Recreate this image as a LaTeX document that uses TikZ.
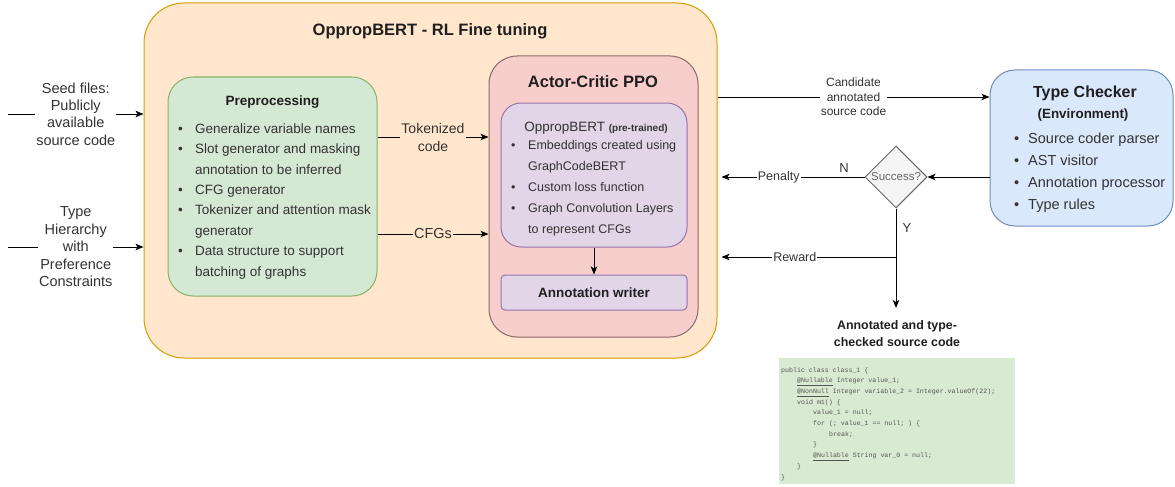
\documentclass[tikz,border=0pt]{standalone}
\usepackage{fontspec}
\setmainfont{Liberation Sans}
\setmonofont{Liberation Mono}
\usetikzlibrary{shapes.geometric,arrows.meta}
\definecolor{ofill}{HTML}{FFE6CC}
\definecolor{odraw}{HTML}{D79B00}
\definecolor{gfill}{HTML}{D5E8D4}
\definecolor{gdraw}{HTML}{82B366}
\definecolor{rfill}{HTML}{F8CECC}
\definecolor{rdraw}{HTML}{8A6A6A}
\definecolor{pfill}{HTML}{E1D5E7}
\definecolor{pdraw}{HTML}{9673A6}
\definecolor{bfill}{HTML}{DAE8FC}
\definecolor{bdraw}{HTML}{6C8EBF}
\definecolor{dfill}{HTML}{F5F5F5}
\definecolor{ddraw}{HTML}{666666}
\definecolor{txt}{HTML}{333333}
\definecolor{hdr}{HTML}{1F1F1F}
\definecolor{codefill}{HTML}{D9EAD3}
\definecolor{codetxt}{HTML}{555555}
\newcommand\fsz[2]{\fontsize{#1}{#2}\selectfont}
\newcommand\bitem[2]{\makebox[#1][l]{\textbullet}#2}
\newcommand\citem[2]{\hspace*{#1}#2}
\begin{document}
\begin{tikzpicture}[x=1pt,y=-1pt,
  every node/.style={text=txt},
  conn/.style={draw=black, line width=1pt, -{Stealth[length=8pt,width=6.5pt,inset=2pt]}},
  lbl/.style={inner sep=1pt, align=center},
  % lists are placed by the baseline of their last line
  listblock/.style={anchor=base west, inner sep=0pt, align=left},
  heading/.style={anchor=base, text=hdr, font=\bfseries\fsz{#1}{20}},
]
\useasboundingbox (0,0) rectangle (1175,487);

% outer RL fine tuning container
\node[draw=odraw, fill=ofill, line width=1pt, rounded corners=40pt,
      minimum width=573pt, minimum height=355pt, inner sep=0pt] (outer) at (430.5,180.5) {};
\node[heading=16.5] (outertitle) at (430,36) {OppropBERT - RL Fine tuning};

% preprocessing block
\node[draw=gdraw, fill=gfill, line width=1pt, rounded corners=25pt,
      minimum width=209pt, minimum height=219pt, inner sep=0pt] (pre) at (272.5,186.5) {};
\node[heading=13.5] (pretitle) at (272.5,105) {Preprocessing};
\node[listblock, font=\fsz{13.5}{20.4}] (prelist) at (178,276) {%
  \bitem{17pt}{Generalize variable names}\\
  \bitem{17pt}{Slot generator and masking}\\
  \citem{17pt}{annotation to be inferred}\\
  \bitem{17pt}{CFG generator}\\
  \bitem{17pt}{Tokenizer and attention mask}\\
  \citem{17pt}{generator}\\
  \bitem{17pt}{Data structure to support}\\
  \citem{17pt}{batching of graphs}};

% actor-critic block
\node[draw=rdraw, fill=rfill, line width=1pt, rounded corners=28pt,
      minimum width=209pt, minimum height=281pt, inner sep=0pt] (ac) at (593.5,196.5) {};
\node[heading=16.5] (actitle) at (593,88) {Actor-Critic PPO};

\node[draw=pdraw, fill=pfill, line width=1pt, rounded corners=20pt,
      minimum width=186pt, minimum height=144pt, inner sep=0pt] (bert) at (594,175) {};
\node[anchor=base, font=\fsz{13.5}{16}] (berttitle) at (596,131)
  {OppropBERT {\bfseries\fsz{10}{12}(pre-trained)}};
\node[listblock, font=\fsz{12.5}{21}] (bertlist) at (511,233.5) {%
  \bitem{17pt}{Embeddings created using}\\
  \citem{17pt}{GraphCodeBERT}\\
  \bitem{17pt}{Custom loss function}\\
  \bitem{17pt}{Graph Convolution Layers}\\
  \citem{17pt}{to represent CFGs}};

\node[draw=pdraw, fill=pfill, line width=1pt, rounded corners=4pt,
      minimum width=186pt, minimum height=35pt, inner sep=0pt, text=hdr,
      font=\bfseries\fsz{13.5}{16}] (writer) at (594,292.5) {Annotation writer};
\draw[conn] (bert) -- (writer);

% type checker environment
\node[draw=bdraw, fill=bfill, line width=1pt, rounded corners=25pt,
      minimum width=183pt, minimum height=156pt, inner sep=0pt] (tc) at (1081.5,148) {};
\node[heading=16] (tctitle) at (1085,97) {Type Checker};
\node[heading=13.4] (tcsub) at (1083,118) {(Environment)};
\node[listblock, font=\fsz{14.5}{22}] (tclist) at (1014,209) {%
  \bitem{14pt}{Source coder parser}\\
  \bitem{14pt}{AST visitor}\\
  \bitem{14pt}{Annotation processor}\\
  \bitem{14pt}{Type rules}};

% decision
\node[diamond, draw=ddraw, fill=dfill, line width=1pt, minimum width=62pt,
      minimum height=62pt, inner sep=0pt,
      label={[text=ddraw, font=\fsz{11.5}{14}]center:Success?}] (dia) at (896,177) {};
\node[font=\fsz{13}{15}] (nlbl) at (844,168) {N};
\node[font=\fsz{13}{15}] (ylbl) at (907,228) {Y};

% inputs
\coordinate (seed) at (8,114);
\draw[conn] (seed) -- node[lbl, fill=white, font=\fsz{14.5}{17.3}]
  {Seed files:\\Publicly\\available\\source code} (seed -| outer.west);
\coordinate (hier) at (8,247);
\draw[conn] (hier) -- node[lbl, fill=white, font=\fsz{14.5}{17.5}]
  {Type\\Hierarchy\\with\\Preference\\Constraints} (hier -| outer.west);

% preprocessing to actor-critic
\draw[conn] (pre.east |- 0,137) -- node[lbl, fill=ofill, font=\fsz{14}{18}]
  {Tokenized\\code} (ac.west |- 0,137);
\draw[conn] (pre.east |- 0,234) -- node[lbl, fill=ofill, font=\fsz{14.5}{17}]
  {CFGs} (ac.west |- 0,234);

% loop with the environment
\draw[conn] (outer.east |- 0,97) -- node[lbl, fill=white, font=\fsz{12}{14.5}]
  {Candidate\\annotated\\source code} (tc.west |- 0,97);
\draw[conn] (tc.west |- dia) -- (dia.east);
\draw[conn] (dia.west) -- node[lbl, fill=white, pos=0.6, font=\fsz{12.5}{15}]
  {Penalty} ([xshift=4pt]dia.west -| outer.east);
\coordinate (yjoin) at (896,257);
\coordinate (ytip) at (896,308);
\draw[conn] (dia.south) -- (ytip);
\draw[conn] (yjoin) -- node[lbl, fill=white, pos=0.58, font=\fsz{12.5}{15}]
  {Reward} ([xshift=4pt]yjoin -| outer.east);

% result
\node[align=center, text=hdr, font=\bfseries\fsz{12.4}{17}] (outlbl) at (897,333.5)
  {Annotated and type-\\checked source code};
\node[fill=codefill, minimum width=236pt, minimum height=126pt, inner sep=0pt] (code) at (897,421) {};
\node[listblock, text=codetxt, font=\ttfamily\fsz{6.6}{10.7}] (codetext) at (781,479) {%
  public class class\_1 \{\\
  \hspace*{16pt}\underline{@Nullable} Integer value\_1;\\
  \hspace*{16pt}\underline{@NonNull} Integer variable\_2 = Integer.valueOf(22);\\
  \hspace*{16pt}void m1() \{\\
  \hspace*{32pt}value\_1 = null;\\
  \hspace*{32pt}for (; value\_1 == null; ) \{\\
  \hspace*{48pt}break;\\
  \hspace*{32pt}\}\\
  \hspace*{32pt}\underline{@Nullable} String var\_0 = null;\\
  \hspace*{16pt}\}\\
  \}};
\end{tikzpicture}
\end{document}
